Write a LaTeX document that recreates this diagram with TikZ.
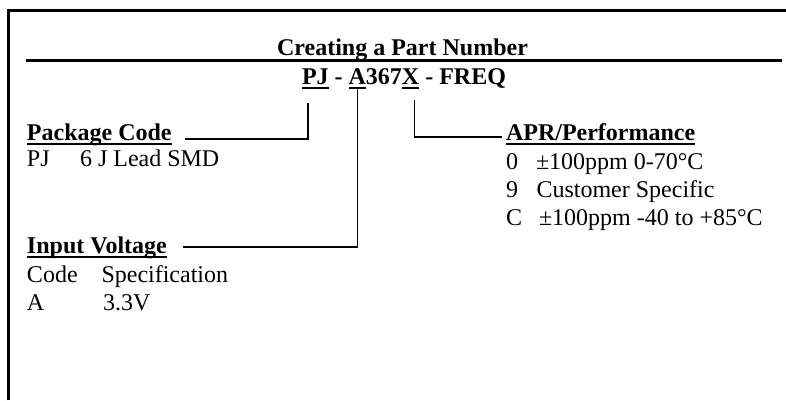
\documentclass[tikz,border=0pt]{standalone}
\usepackage{fontspec}
\setmainfont{Liberation Serif}
\usetikzlibrary{positioning,calc}
\newcommand{\undl}[1]{\setbox0\hbox{#1}\rlap{\rule[-4.6pt]{\wd0}{1.6pt}}\box0}

\begin{document}
\begin{tikzpicture}[x=1pt,y=-1pt,
  every node/.style={inner sep=0pt,outer sep=0pt,font=\fontsize{24}{28}\selectfont},
  head/.style={anchor=base west,font=\fontsize{24}{28}\selectfont\bfseries},
  part/.style={font=\fontsize{24}{28}\selectfont\bfseries},
  txt/.style={anchor=base west},
  frame/.style={line width=3pt},
  link/.style={line width=1.3pt}]
\useasboundingbox (0,0) rectangle (786,400);
% outer frame and title rule
\draw[frame] (8.5,400) -- (8.5,10.5) -- (786,10.5);
\node[part,anchor=base] (title) at (402.5,55) {Creating a Part Number};
\draw[frame] (26,60.5) -- (782,60.5);

% part number
\node[part,anchor=base west] (pj) at (302,84) {\undl{PJ}};
\node[part,base right=0pt of pj] (dash1) {\hbox{\ -\ }};
\node[part,base right=0pt of dash1] (pa) {\undl{A}};
\node[part,base right=0pt of pa] (num) {367};
\node[part,base right=0pt of num] (px) {\undl{X}};
\node[part,base right=0pt of px] (freq) {\hbox{\ - FREQ}};

% package code
\node[head] (pkg) at (27,140) {\undl{Package Code}};
\node[txt] (pkgpj) at (27,166) {PJ};
\node[txt] (pkgsmd) at (80,166) {6 J Lead SMD};

% input voltage
\node[head] (volt) at (27,253) {\undl{Input Voltage}};
\node[txt] (vcode) at (27,282) {Code};
\node[txt] (vspec) at (101.5,282) {Specification};
\node[txt] (va) at (27,310) {A};
\node[txt] (v33) at (103,310) {3.3V};

% apr / performance
\node[head] (apr) at (506,140) {\undl{APR/Performance}};
\node[txt] (apr0) at (506,169) {0};
\node[txt] (apr0t) at (536,169) {±100ppm 0-70°C};
\node[txt] (apr9) at (506,197) {9};
\node[txt] (apr9t) at (536.5,197) {Customer Specific};
\node[txt] (aprc) at (506,225) {C};
\node[txt] (aprct) at (539,225) {±100ppm -40 to +85°C};

% leader lines
\coordinate (pjfoot) at ([xshift=6pt,yshift=-19pt]pj.base west);
\coordinate (pkgend) at ([xshift=13pt,yshift=1pt]pkg.base east);
\draw[link] (pjfoot) |- (pkgend);
\coordinate (afoot) at ([yshift=-5pt]pa.base);
\coordinate (voltend) at ([xshift=16pt,yshift=6pt]volt.base east);
\draw[link] (afoot) |- (voltend);
\coordinate (xfoot) at ([xshift=4pt,yshift=-16pt]px.base);
\coordinate (aprend) at ([xshift=-4pt,yshift=3pt]apr.base west);
\draw[link] (xfoot) |- (aprend);
\end{tikzpicture}
\end{document}
